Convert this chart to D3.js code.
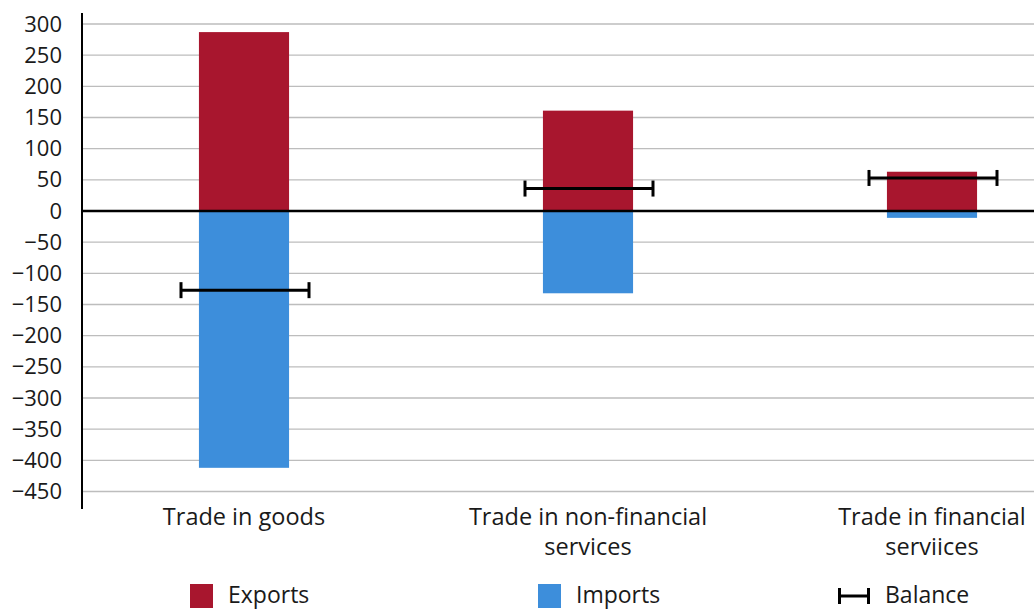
<!DOCTYPE html>
<html><head><meta charset="utf-8">
<script src="https://cdn.jsdelivr.net/npm/d3@7"></script>
<style>body{margin:0;background:#fff}svg{display:block}text{font-family:"Open Sans",sans-serif;fill:#1a1a1a}</style>
</head><body><svg id="c" width="1034" height="611"></svg>
<script>
const categories = [["Trade in goods"], ["Trade in non-financial", "services"], ["Trade in financial", "serviices"]];
const exportsVals = [287, 161, 63];
const importsVals = [-412, -132, -11];
const balanceVals = [-127, 36, 53];
const yTicks = d3.range(-450, 301, 50);
const legendItems = ["Exports", "Imports", "Balance"];
const colors = {Exports: "#A8162E", Imports: "#3D8EDB", Balance: "#000"};

const svg = d3.select("#c");
const y = d3.scaleLinear().domain([-450, 300]).range([491.5, 24]);
const x = d3.scaleBand().domain(d3.range(3)).range([72, 1104]).paddingInner(0.738).paddingOuter(0.369);
const axisX = 82, rightX = 1034;

// gridlines
svg.append("g").selectAll("line").data(yTicks.filter(d => d !== 0)).join("line")
  .attr("x1", axisX).attr("x2", rightX).attr("y1", d => y(d)).attr("y2", d => y(d))
  .attr("stroke", "#bdbdbd").attr("stroke-width", 1.3);

// y axis labels via d3 axis
const yAxis = svg.append("g").attr("transform", `translate(${axisX},0)`)
  .call(d3.axisLeft(y).tickValues(yTicks).tickSize(0).tickPadding(20).tickFormat(d3.format("d")));
yAxis.select(".domain").remove();
yAxis.selectAll("text").attr("font-size", 22).attr("font-family", "Open Sans, sans-serif").attr("fill", "#1a1a1a");

// bars
const bw = x.bandwidth();
svg.append("g").selectAll("rect").data(exportsVals).join("rect")
  .attr("x", (d, i) => x(i)).attr("width", bw)
  .attr("y", d => y(d)).attr("height", d => y(0) - y(d)).attr("fill", colors.Exports);
svg.append("g").selectAll("rect").data(importsVals).join("rect")
  .attr("x", (d, i) => x(i)).attr("width", bw)
  .attr("y", y(0)).attr("height", d => y(d) - y(0)).attr("fill", colors.Imports);

// zero line
svg.append("line").attr("x1", axisX).attr("x2", rightX).attr("y1", y(0)).attr("y2", y(0))
  .attr("stroke", "#000").attr("stroke-width", 2.5);
// y axis line
svg.append("line").attr("x1", axisX).attr("x2", axisX).attr("y1", 13).attr("y2", 509)
  .attr("stroke", "#000").attr("stroke-width", 2);

// balance whiskers
const half = 64;
const bal = svg.append("g").selectAll("g").data(balanceVals).join("g")
  .attr("transform", (d, i) => `translate(${x(i) + bw / 2 + 1},${y(d)})`);
bal.append("line").attr("x1", -half).attr("x2", half).attr("stroke", "#000").attr("stroke-width", 3);
bal.append("line").attr("x1", -half).attr("x2", -half).attr("y1", -8).attr("y2", 8).attr("stroke", "#000").attr("stroke-width", 3);
bal.append("line").attr("x1", half).attr("x2", half).attr("y1", -8).attr("y2", 8).attr("stroke", "#000").attr("stroke-width", 3);

// category labels
const cl = svg.append("g").selectAll("text").data(categories).join("text")
  .attr("x", (d, i) => x(i) + bw / 2).attr("text-anchor", "middle").attr("font-size", 23.5);
cl.selectAll("tspan").data(d => d).join("tspan")
  .attr("x", function () { return this.parentNode.getAttribute("x"); })
  .attr("y", (d, j) => 525 + j * 30).text(d => d);

// legend
const legX = [190, 538, 838];
const lg = svg.append("g").selectAll("g").data(legendItems).join("g")
  .attr("transform", (d, i) => `translate(${legX[i]},0)`);
lg.each(function (d) {
  const g = d3.select(this);
  if (d === "Balance") {
    g.append("line").attr("x1", 1).attr("x2", 31).attr("y1", 596).attr("y2", 596).attr("stroke", "#000").attr("stroke-width", 3);
    g.append("line").attr("x1", 1.5).attr("x2", 1.5).attr("y1", 588).attr("y2", 604).attr("stroke", "#000").attr("stroke-width", 3);
    g.append("line").attr("x1", 30.5).attr("x2", 30.5).attr("y1", 588).attr("y2", 604).attr("stroke", "#000").attr("stroke-width", 3);
    g.append("text").attr("x", 47).attr("y", 603).attr("font-size", 23).text(d);
  } else {
    g.append("rect").attr("x", 0).attr("y", 584).attr("width", 23).attr("height", 24).attr("fill", colors[d]);
    g.append("text").attr("x", 38).attr("y", 603).attr("font-size", 23).text(d);
  }
});
</script></body></html>
